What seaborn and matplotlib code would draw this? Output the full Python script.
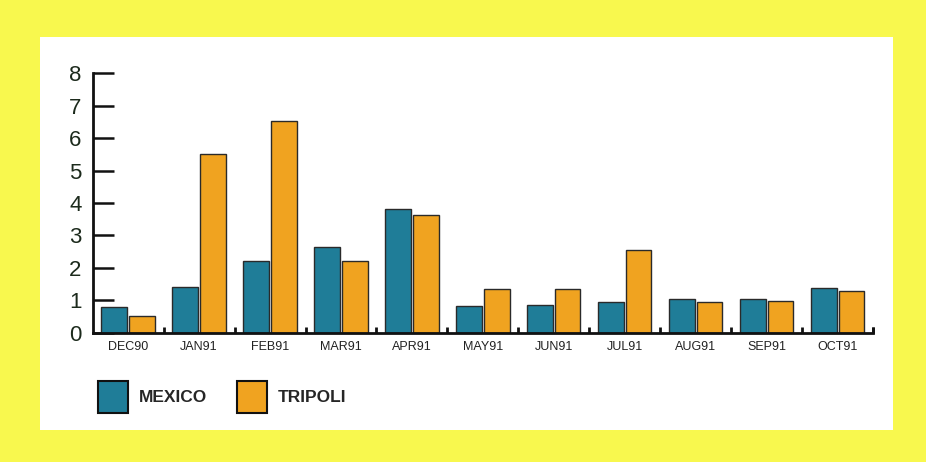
import matplotlib
matplotlib.use("Agg")
import matplotlib.pyplot as plt
from matplotlib.patches import Patch, Rectangle
import seaborn as sns
import pandas as pd
import numpy as np

months = ["DEC90", "JAN91", "FEB91", "MAR91", "APR91", "MAY91",
          "JUN91", "JUL91", "AUG91", "SEP91", "OCT91"]
mexico = [0.80, 1.40, 2.22, 2.63, 3.82, 0.83, 0.85, 0.94, 1.05, 1.05, 1.38]
tripoli = [0.50, 5.50, 6.52, 2.22, 3.63, 1.35, 1.35, 2.55, 0.96, 0.97, 1.28]
series = ["MEXICO", "TRIPOLI"]
y_ticks = [0, 1, 2, 3, 4, 5, 6, 7, 8]

colors = {"MEXICO": "#1f7d98", "TRIPOLI": "#f0a320"}
yellow = "#f8f84e"

df = pd.DataFrame({
    "month": months * 2,
    "value": mexico + tripoli,
    "site": [series[0]] * len(months) + [series[1]] * len(months),
})

sns.set_theme(style="white")
plt.rcParams["font.family"] = ["Liberation Sans", "DejaVu Sans"]

fig = plt.figure(figsize=(9.26, 4.62), dpi=100)
fig.patch.set_facecolor(yellow)
# white inner panel behind the chart
fig.patches.append(Rectangle((40 / 926, 1 - 430 / 462), (893 - 40) / 926, (430 - 37) / 462,
                             transform=fig.transFigure, facecolor="white",
                             edgecolor="none", zorder=-10))

ax = fig.add_axes([92.7 / 926, 129.3 / 462, (873 - 92.7) / 926, (388.7 - 129.3) / 462])
ax.set_zorder(5)
ax.set_facecolor("none")

sns.barplot(data=df, x="month", y="value", hue="site", order=months,
            hue_order=series, palette=colors, width=0.78, gap=0.07,
            edgecolor="#2a2a2a", linewidth=1.0, saturation=1, legend=False, ax=ax)

ax.set_xlim(-0.5, len(months) - 0.5)
ax.set_ylim(0, 8)
ax.set_yticks(y_ticks)
ax.set_yticklabels([str(t) for t in y_ticks], fontsize=16, color="#1c2a1c")
ax.tick_params(axis="y", left=True, direction="in", length=15, width=1.8,
               color="#111111", pad=8)
ax.tick_params(axis="x", which="major", bottom=True, length=0, labelsize=9,
               labelcolor="#222222", pad=6)
ax.set_xticks(np.append(np.arange(len(months)) + 0.5, len(months) - 0.5), minor=True)
ax.tick_params(axis="x", which="minor", bottom=True, direction="in", length=4,
               width=2, color="#111111")
ax.set_xlabel("")
ax.set_ylabel("")

for side in ("top", "right"):
    ax.spines[side].set_visible(False)
for side in ("left", "bottom"):
    ax.spines[side].set_linewidth(2)
    ax.spines[side].set_color("#111111")

handles = [Patch(facecolor=colors[s], edgecolor="#111111", linewidth=1.5, label=s) for s in series]
leg = fig.legend(handles=handles, loc="center left", bbox_to_anchor=(82 / 926, 1 - 397 / 462),
                 ncol=2, frameon=False, handlelength=1.75, handleheight=2.4,
                 handletextpad=0.6, columnspacing=1.75,
                 prop={"weight": "bold", "size": 12.5})
leg.set_zorder(6)

fig.savefig("out.png", dpi=100, facecolor=yellow)
